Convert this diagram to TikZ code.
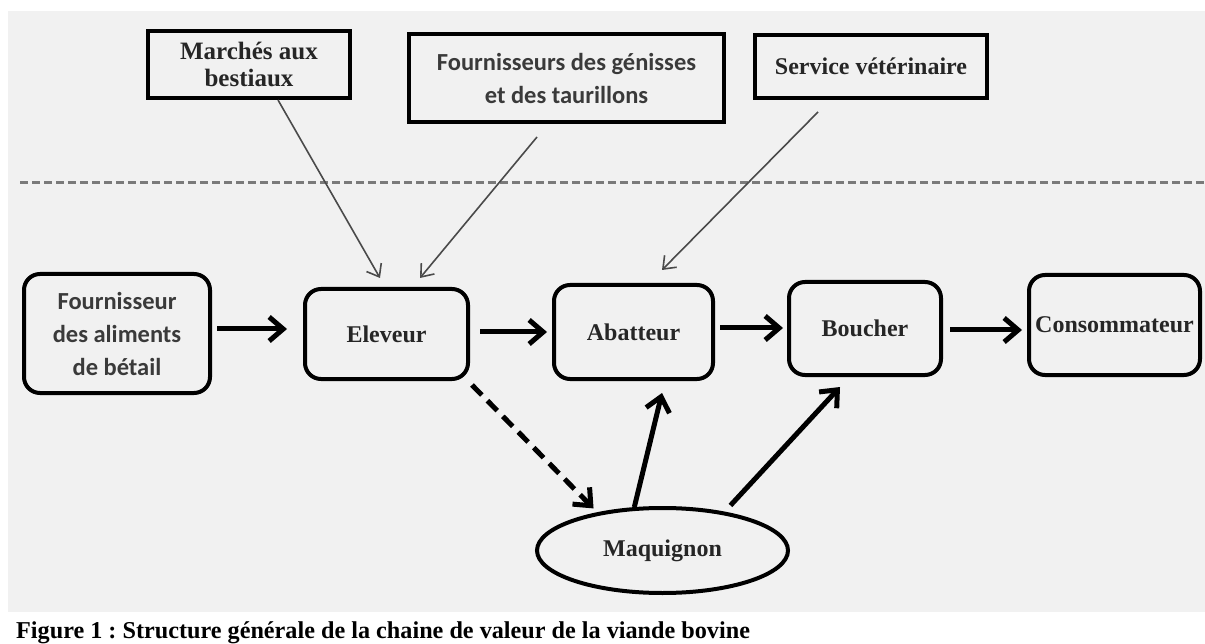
\documentclass[tikz,border=0pt]{standalone}
\usepackage{fontspec}
\setmainfont{Liberation Serif}
\newfontfamily\calib{Carlito}
\usetikzlibrary{arrows.meta,shapes.geometric,calc}
\frenchspacing
\definecolor{bggrey}{HTML}{F1F1F1}
\definecolor{dashgrey}{HTML}{7A7A7A}
\definecolor{thingrey}{HTML}{4A4A4A}
\definecolor{sanstext}{HTML}{3A3A3A}
\definecolor{serftext}{HTML}{262626}
\begin{document}
\begin{tikzpicture}[x=1pt,y=-1pt,
  topbox/.style={draw=black, line width=4pt, fill=bggrey, inner sep=0pt, align=center,
    font=\fontsize{25}{27}\selectfont\bfseries, text=serftext},
  chainbox/.style={draw=black, line width=4pt, rounded corners=16pt, fill=bggrey, inner sep=0pt,
    align=center, font=\fontsize{24}{32.5}\selectfont\bfseries, text=serftext},
  sanslabel/.style={font=\fontsize{24.5}{33}\selectfont\calib\bfseries, text=sanstext},
  ovalbox/.style={draw=black, line width=4pt, ellipse, fill=bggrey, inner sep=0pt,
    font=\fontsize{24}{28}\selectfont\bfseries, text=serftext},
  thinarrow/.style={draw=thingrey, line width=1.6pt,
    -{Straight Barb[length=11pt,width=17pt,line width=1.6pt]}},
  flow/.style={draw=black, line width=5pt, -{Straight Barb[length=14pt,width=24pt]}},
  dashflow/.style={draw=black, line width=5pt, dash pattern=on 14pt off 8pt,
    -{Straight Barb[length=14pt,width=24pt]}},
  separator/.style={draw=dashgrey, line width=3pt, dash pattern=on 8pt off 4pt}
]
\useasboundingbox (0,0) rectangle (1205,644);
\fill[white] (0,0) rectangle (1205,644);
\fill[bggrey] (8,11) rectangle (1205,612);

% separator
\coordinate (sepL) at (20,183);
\coordinate (sepR) at (1205,183);
\draw[separator] (sepL) -- (sepR);

% top boxes
\node[topbox, minimum width=202pt, minimum height=67pt] (marche) at (249,64.5)
  {Marchés aux\\bestiaux};
\node[topbox, sanslabel, minimum width=315pt, minimum height=88pt] (genisse) at (566.5,78)
  {Fournisseurs des génisses\\et des taurillons};
\node[topbox, minimum width=232pt, minimum height=63pt, font=\fontsize{24}{27}\selectfont\bfseries] (service) at (871,66.5)
  {Service vétérinaire};

% chain boxes
\node[chainbox, sanslabel, minimum width=186pt, minimum height=119pt] (fourn) at (117,333.5)
  {Fournisseur\\des aliments\\de bétail};
\node[chainbox, minimum width=163pt, minimum height=90pt] (eleveur) at (386.5,334) {Eleveur};
\node[chainbox, minimum width=159pt, minimum height=94pt] (abatteur) at (633.5,332) {Abatteur};
\node[chainbox, minimum width=152pt, minimum height=93pt] (boucher) at (865,328.5) {Boucher};
\node[chainbox, minimum width=171pt, minimum height=100pt] (conso) at (1114.5,325) {Consommateur};

% ellipse
\node[ovalbox, minimum width=251pt, minimum height=85pt] (maq) at (662.5,550.5) {Maquignon};

% thin arrows from top
\draw[thinarrow] ($(marche.south)+(29,0)$) -- ($(eleveur.north)+(-6.5,-9)$);
\draw[thinarrow] ($(genisse.south)+(-29.5,13)$) -- ($(eleveur.north)+(33.5,-9)$);
\draw[thinarrow] ($(service.south)+(-53,12)$) -- ($(abatteur.north)+(28.5,-13)$);

% horizontal flow
\draw[flow] ($(fourn.east)+(5,-4.5)$) -- ($(eleveur.west)+(-16,-5)$);
\draw[flow] ($(eleveur.east)+(10,-2)$) -- ($(abatteur.west)+(-5,0)$);
\draw[flow] ($(abatteur.east)+(5,-4)$) -- ($(boucher.west)+(-4,-0.5)$);
\draw[flow] ($(boucher.east)+(7,1.5)$) -- ($(conso.west)+(-5,5)$);

% maquignon links
\draw[dashflow] ($(eleveur.south east)+(2,4)$) -- ($(maq.150)+(-3,-4)$);
\draw[flow] (maq.123) -- ($(abatteur.south)+(28.5,12)$);
\draw[flow] ($(maq.30)+(2,-7)$) -- ($(boucher.south)+(-25,10)$);

% caption
\node[anchor=base west, inner sep=0pt, font=\fontsize{24.2}{29}\selectfont\bfseries] (caption) at (16,638)
  {Figure 1 : Structure générale de la chaine de valeur de la viande bovine};
\end{tikzpicture}
\end{document}
